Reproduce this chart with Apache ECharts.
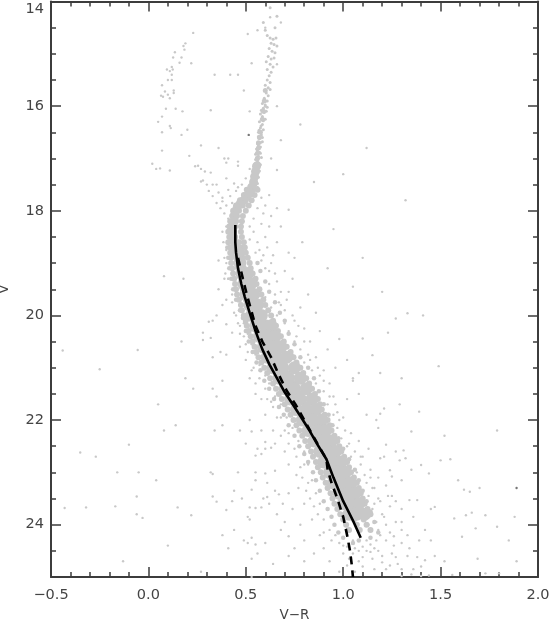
<!DOCTYPE html>
<html><head><meta charset="utf-8">
<style>html,body{margin:0;padding:0;background:#fff}#c{width:550px;height:621px}</style>
<script src="https://cdn.jsdelivr.net/npm/echarts@6/dist/echarts.min.js"></script></head>
<body><div id="c"></div>
<script>
// Dense stellar band: V magnitude, then V-R colours read across the band
const bandRows = [
[17.6,[.505,.535,.56]],[17.7,[.49,.52,.545]],[17.8,[.47,.50,.53]],[17.9,[.45,.485,.515]],[18.0,[.435,.465,.50]],
[18.1,[.43,.455,.485]],[18.2,[.42,.45,.48]],[18.3,[.415,.445,.475]],[18.4,[.41,.44,.475]],[18.5,[.415,.445,.48]],
[18.6,[.41,.44,.465,.49]],[18.7,[.42,.45,.48,.495]],[18.8,[.42,.45,.475,.50]],[18.9,[.425,.455,.485,.51]],[19.0,[.425,.455,.485,.52]],
[19.1,[.43,.46,.49,.525]],[19.2,[.435,.465,.50,.535]],[19.3,[.44,.475,.51,.55]],[19.4,[.445,.48,.515,.555]],[19.5,[.45,.485,.525,.57]],
[19.6,[.455,.49,.53,.58]],[19.7,[.465,.50,.54,.59]],[19.8,[.475,.51,.55,.60]],[19.9,[.48,.52,.56,.615]],[20.0,[.49,.53,.57,.63]],
[20.1,[.50,.54,.585,.64]],[20.2,[.505,.545,.59,.655]],[20.3,[.515,.555,.60,.665]],[20.4,[.525,.565,.61,.68]],[20.5,[.535,.58,.63,.695]],
[20.6,[.545,.59,.64,.71]],[20.7,[.555,.60,.655,.73]],[20.8,[.565,.61,.665,.745]],[20.9,[.58,.625,.68,.76]],[21.0,[.595,.64,.70,.78]],
[21.1,[.61,.655,.715,.795]],[21.2,[.625,.67,.73,.81]],[21.3,[.64,.69,.75,.825]],[21.4,[.655,.705,.765,.84]],[21.5,[.67,.72,.78,.855]],
[21.6,[.685,.735,.80,.87]],[21.7,[.70,.755,.815,.88]],[21.8,[.715,.77,.83,.89]],[21.9,[.73,.785,.845,.905]],[22.0,[.745,.80,.86,.92]],
[22.1,[.76,.815,.875,.93]],[22.2,[.775,.83,.89,.94]],[22.3,[.79,.845,.905,.955]],[22.4,[.805,.86,.92,.97]],[22.5,[.82,.875,.93,.98]],
[22.6,[.835,.885,.94,.99]],[22.7,[.845,.90,.955,1.005]],[22.8,[.86,.91,.965,1.02]],[22.9,[.87,.925,.98,1.03]],[23.0,[.885,.935,.99,1.04]],
[23.1,[.895,.95,1.005,1.055]],[23.2,[.91,.96,1.015,1.07]],[23.3,[.92,.975,1.03,1.08]],[23.4,[.935,.985,1.04,1.09]],[23.5,[.945,1.0,1.055,1.10]],
[23.6,[.955,1.01,1.065,1.11]],[23.7,[.97,1.025,1.08,1.125]],[23.8,[.985,1.04,1.09,1.14]],[23.9,[1.0,1.055,1.105]],[24.0,[1.015,1.07,1.12]],[24.1,[1.03,1.085,1.14]]
];
// Interior of the dense band (big soft dots), V then colours
const coreRows = [
[18.8,[.46]],[19.0,[.47]],[19.2,[.48,.51]],[19.4,[.49,.525]],[19.6,[.50,.54]],[19.8,[.52,.56]],[20.0,[.53,.58]],[20.2,[.55,.60,.63]],[20.4,[.57,.62,.65]],[20.6,[.59,.64,.68]],[20.8,[.61,.66,.71]],[21.0,[.64,.69,.75]],[21.2,[.67,.72,.78]],[21.4,[.70,.75,.81]],[21.6,[.73,.78,.84]],[21.8,[.76,.81,.86]],[22.0,[.79,.84,.89]],[22.2,[.82,.87,.91]],[22.4,[.85,.90,.94]],[22.6,[.88,.92,.96]],[22.8,[.90,.95,.99]],[23.0,[.93,.97,1.01]],[23.2,[.95,1.0,1.04]],[23.4,[.98,1.02,1.06]],[23.6,[1.0,1.04,1.08]],[23.8,[1.03,1.07,1.11]]
];
// Turn-off ridge
const turnoffPts = [[.555,17.15],[.55,17.25],[.545,17.35],[.54,17.45],[.53,17.55],[.52,17.65],[.505,17.72],[.49,17.8],[.47,17.87],[.455,17.95],[.445,18.02],[.44,18.1],[.44,18.2],[.435,18.3],[.43,18.4],[.435,18.5],[.44,18.6],[.45,18.7],[.455,18.8],[.46,18.9],[.47,19.0],[.48,19.1]];
const ridgePts = [[.60,15.7],[.595,15.9],[.59,16.1],[.585,16.25],[.575,16.5],[.57,16.6],[.565,16.7],[.565,16.8],[.56,16.9],[.56,17.0],[.555,17.1]];
// Soft edges of the band
const edgePts = [[.405,18.7],[.41,18.9],[.415,19.1],[.425,19.3],[.435,19.5],[.45,19.7],[.47,19.9],[.485,20.05],[.50,20.3],[.515,20.5],[.535,20.7],[.555,20.9],[.575,21.05],[.595,21.25],[.62,21.4],[.645,21.6],[.67,21.75],[.695,21.9],[.72,22.1],[.75,22.3],[.775,22.5],[.80,22.65],[.82,22.8],[.845,23.0],[.86,23.15],[.88,23.35],[.90,23.55],[.92,23.7],[.94,23.85],[.955,24.0],[.975,24.15],[1.0,24.25],
[.56,19.0],[.575,19.15],[.60,19.35],[.62,19.55],[.65,19.75],[.675,19.95],[.70,20.1],[.72,20.35],[.75,20.55],[.78,20.8],[.82,21.0],[.85,21.2],[.875,21.45],[.90,21.7],[.925,21.9],[.945,22.1],[.975,22.35],[1.0,22.55],[1.03,22.75],[1.06,22.95],[1.08,23.15],[1.10,23.35],[1.12,23.55],[1.14,23.75],[1.16,23.95],[1.18,24.15],[1.14,24.25],[1.08,24.3],[1.05,24.35]];
// Upper giant branch
const giantPts = [[.625,14.12],[.59,14.4],[.60,14.55],[.65,14.5],[.66,14.28],[.61,14.65],[.625,14.7],[.64,14.72],[.655,14.7],[.63,14.8],[.645,14.82],[.66,14.85],[.62,14.9],[.635,14.95],[.65,14.98],[.615,15.05],[.63,15.1],[.645,15.08],[.605,15.15],[.625,15.2],[.64,15.25],[.61,15.3],[.63,15.35],[.62,15.42],[.61,15.5],[.625,15.55],[.60,15.6],[.615,15.65],[.625,15.68],[.605,15.75],[.615,15.8],[.595,15.85],[.61,15.9],[.585,15.95],[.60,16.0],[.61,16.02],[.58,16.08],[.595,16.12],[.585,16.2],[.60,16.25],[.57,16.3],[.585,16.35],[.575,16.42],[.59,16.45],[.565,16.5],[.58,16.55],[.57,16.62],[.585,16.68],[.56,16.72],[.575,16.78],[.555,16.82],[.57,16.88],[.55,16.92],[.565,16.96],[.58,16.98],[.55,17.02],[.565,17.08],[.575,17.12],[.55,17.15],[.56,17.2],[.57,17.24],[.545,17.28],[.555,17.32],[.565,17.36],[.54,17.4],[.55,17.44],[.56,17.48],[.535,17.52],[.545,17.56],[.555,17.58],
[.60,15.98],[.59,16.04],[.605,16.1],[.575,16.15],[.59,16.28],[.578,16.38],[.568,16.46],[.585,16.6],[.565,16.58],[.575,16.7],[.565,16.75],[.56,16.85],[.575,16.9],[.555,16.98],[.56,17.05],[.57,17.1],[.555,17.1],[.56,17.28],[.55,17.36],[.545,17.48],[.55,17.52],[.54,17.6],[.56,17.55]];
// Horizontal branch and other bright scatter
const brightPts = [[.23,14.6],[.19,14.8],[.18,14.85],[.185,14.92],[.136,14.97],[.127,15.07],[.17,15.07],[.16,15.17],[.22,15.18],[.12,15.25],[.095,15.3],[.125,15.3],[.11,15.33],[.12,15.4],[.10,15.5],[.12,15.5],[.07,15.6],[.13,15.7],[.085,15.72],[.065,15.8],[.10,15.78],[.13,15.75],[.11,15.85],[.075,15.82],[.09,16.05],[.14,16.05],[.175,16.1],[.32,16.08],[.07,16.2],[.05,16.3],[.11,16.38],[.115,16.42],[.07,16.5],[.2,16.45],[.17,16.55],[.27,16.75],[.36,16.8],[.07,16.85],[.21,16.95],[.39,17.0],[.41,17.0],[.40,17.08],[.46,17.06],[.46,17.14],[.02,17.1],[.04,17.2],[.06,17.19],[.11,17.23],[.24,17.15],[.255,17.14],[.27,17.2],[.29,17.25],[.32,17.27],[.28,17.42],[.27,17.44],[.33,17.5],[.35,17.5],[.40,17.38],[.30,17.5],[.31,17.62],[.33,17.72],[.36,17.65],[.38,17.75],[.41,17.6],[.44,17.48],[.46,17.55],[.35,17.85],[.38,17.82],[.40,17.9],[.42,17.72],[.45,17.62],[.48,17.5],[.50,17.38],[.52,17.2],[.43,17.85],[.37,17.95],[.39,18.05],[.52,16.1],[.49,15.7],[.34,15.4],[.46,15.4],[.42,15.4],[.51,14.62],[.56,14.55],[.53,15.18],[.60,14.5],[.625,14.3],[.68,14.4],[.66,15.2],[.66,16.0],[.68,16.65],[.63,17.0],[.66,17.22],[.62,17.7],[.60,17.9],[.66,17.95],[.63,18.1],[.58,17.75],[.56,17.95],[.59,18.05],[.72,17.98],[.79,18.6],[.72,18.8],[.68,18.3],[.62,18.3],[.60,18.5],[.58,18.25],[.66,18.6],[.64,18.85],[.75,18.9],[.38,18.4],[.40,18.75],[.36,18.95],[.18,19.3],[.08,19.25],[.36,19.5],[.38,19.8],[.35,20.0],[.40,19.7],[.39,19.3],
[.54,18.4],[.56,18.6],[.55,18.8],[.58,18.95],[.60,19.1],[.54,18.15],[.52,18.3],[.52,18.55],[.57,18.75],[.62,19.4],[.60,19.65],[.65,19.6],[.63,19.85],[.68,19.8],[.66,20.0],[.70,20.15],[.68,19.55],[.72,20.3],[.75,20.5],[.78,20.65],[.74,20.75],[.80,20.9],[.84,21.05],[.82,20.75],[.86,21.3],[.90,21.45],[.88,21.15],[.92,21.7],[.95,21.9],[.97,22.15],[.99,22.35],[1.02,22.5],[1.04,22.7],[1.07,23.0],[1.09,22.85],[1.12,23.2],[1.13,23.45],[1.15,23.7],[1.17,23.95],[1.19,24.2],[1.16,23.6],[1.13,24.0],[1.17,24.3],[1.12,24.5],[1.15,24.65],[1.05,24.3],[1.08,24.7],[1.0,24.55],[1.22,24.85],[.93,24.1],[.90,23.9],[.88,23.6],[.86,23.4],[.84,23.15],[.82,22.85],[.80,22.6],[.77,22.4],[.74,22.15],[.71,21.95],[.68,21.7],[.65,21.55],[.62,21.3],[.60,21.15],[.57,20.95],[.55,20.75],[.53,20.55],[.51,20.35],[.49,20.15],
[.59,18.85],[.61,18.7],[.63,19.0],[.65,19.2],[.70,19.15],[.67,19.75],[.71,19.7],[.74,20.0],[.77,20.2],[.76,20.4],[.80,20.5],[.83,20.85],[.87,21.0],[.90,21.25],[.93,21.55],[.96,21.7],[.98,22.0],[1.01,22.2],[1.03,22.45],[1.06,22.6],[1.09,22.7],[1.11,23.05],[1.14,23.1],[1.16,23.3],[1.18,23.5],[1.20,23.8],[1.22,24.0],[1.24,24.15],[1.10,24.42],[1.14,24.38],[1.06,24.45],[1.02,24.42],[.98,24.35],[.94,24.3],[.90,24.15],[.87,23.8],[.85,23.65],[.83,23.5],[.81,23.35],[.79,23.1],[.78,22.9],[.75,22.55],[.72,22.45],[.70,22.2],[.66,21.95],[.63,21.65],[.60,21.4],[.57,21.2],[.54,21.0],[.51,20.7],[.49,20.4],[.47,20.2],[.45,20.0],[.43,19.75],[.41,19.3],[.395,19.2],[.39,18.9],[.385,18.6],[.40,18.3],[.41,18.15],
[1.05,24.55],[1.1,24.62],[1.14,24.52],[1.18,24.5],[1.2,24.72],[1.16,24.85],[1.06,24.9],[1.02,24.78],[1.26,24.4],[1.3,24.35],[1.27,24.62],[1.24,24.78],[1.3,24.85],[1.34,24.45],[1.38,24.62],[1.42,24.68],[1.35,24.95],[1.4,24.98],[1.26,24.22],[1.3,24.1],[1.23,23.45],[1.27,23.55],[1.3,23.95]];
// Scatter around the band and across the field
const fieldPts = [[-.44,20.67],[-.055,20.66],[-.25,21.03],[.17,20.5],[.28,20.33],[.28,20.47],[.32,20.43],[.31,20.12],[.33,20.1],[.33,20.8],[.37,20.7],[.40,20.75],[.43,20.33],[.40,20.17],[.19,21.2],[.23,21.4],[.33,21.4],[.38,21.25],[.35,21.55],[.05,21.7],[.14,22.1],[.08,22.2],[-.1,22.47],[-.35,22.62],[-.27,22.7],[-.16,23],[-.05,23],[.04,23.15],[.32,23],[.33,23.03],[-.06,23.46],[.33,23.46],[.35,23.56],[.44,23.35],[-.43,23.68],[-.32,23.67],[-.17,23.65],[.15,23.67],[-.06,23.8],[-.03,23.87],[.22,23.82],[.40,23.72],[.43,23.55],[.48,23.5],[.52,23.67],[.55,23.68],[.58,23.67],[.51,23.85],[.52,23.9],[.44,24.1],[.38,24.2],[.1,24.4],[.41,24.45],[.49,24.3],[.53,24.25],[.51,24.35],[.55,24.38],[.56,24.55],[.53,24.65],[.6,24.35],[-.13,24.7],[.27,24.9],[.64,24.75],[.53,25],
[.52,22.0],[.47,22.2],[.53,22.22],[.58,22.2],[.38,22.1],[.34,22.2],[.5,22.45],[.6,22.42],[.56,22.55],[.6,22.55],[.55,22.68],[.58,22.65],[.63,22.53],[.65,22.45],[.46,23],[.55,23],[.6,23.02],[.65,22.97],[.55,23.15],[.61,23.2],[.53,23.33],[.61,23.47],[.59,23.5],[.65,23.35],[.62,23.6],[.67,23.42],[.69,23.6],[.72,23.4],[.66,23.8],[.70,23.95],[.74,23.7],[.68,24.1],[.72,24.22],[.78,24.0],[.75,24.45],[.80,24.3],[.72,24.6],[.80,24.7],[.85,24.55],[.88,24.2],[.84,23.9],[.80,23.6],[.77,23.3],[.82,23.2],[.76,23.05],[.72,22.85],[.70,22.6],[.76,22.7],[.80,22.85],[.68,22.3],[.64,22.2],[.72,22.25],[.60,21.9],[.64,21.75],[.68,21.95],[.55,21.5],[.58,21.6],[.61,21.6],[.52,21.2],[.55,21.3],[.50,20.85],[.53,21.05],[.47,20.6],[.50,20.55],[.46,20.15],[.47,20.35],[.44,19.95],[.43,19.6],[.41,19.3],[.40,19.0],
[.90,24.45],[.93,24.7],[.96,24.2],[1.0,24.4],[1.03,24.65],[.98,24.9],[1.08,24.5],[1.12,24.3],[1.18,24.1],[1.16,24.45],[1.22,24.3],[1.2,24.6],[1.1,24.8],[1.25,24.55],[1.28,24.75],[1.33,24.6],[1.36,24.85],[1.3,24.98],[1.4,24.8],[1.44,24.97],[1.47,24.6],[1.39,24.3],[1.33,24.2],[1.27,23.95],[1.3,23.7],[1.24,23.65],[1.21,23.85],[1.19,23.55],[1.15,23.3],[1.18,23.1],[1.22,23.25],[1.25,23.45],[1.14,22.95],[1.1,22.7],[1.13,22.55],[1.08,22.4],[1.04,22.25],[1.0,21.95],[.97,21.85],[1.02,21.6],[.95,21.55],[.93,21.3],[.90,21.05],[.96,21.0],[.86,20.8],[.92,20.65],[.83,20.5],[.80,20.25],[.88,20.3],[.75,20.1],[.70,19.9],[.78,19.85],[.72,19.55],[.66,19.35],[.74,19.3],[.62,19.15],[.82,19.6],[.86,19.95],[.98,20.45],[1.02,20.85],[1.05,21.2],[1.08,21.5],[1.12,21.9],[1.18,22.15],
[1.33,19.96],[1.41,20],[1.27,20.06],[1.23,20.33],[1.1,20.44],[1.15,20.76],[1.49,20.97],[1.3,21.2],[1.19,21.1],[1.05,21.25],[1.08,21.1],[1.39,21.84],[1.29,21.7],[1.21,21.78],[1.19,21.88],[1.17,22.0],[1.79,22.2],[1.52,22.3],[1.35,22.22],[1.22,22.47],[1.27,22.6],[1.31,22.58],[1.32,22.73],[1.21,22.7],[1.19,22.73],[1.29,22.77],[1.5,22.77],[1.55,22.75],[1.4,22.86],[1.44,23.02],[1.24,22.96],[1.25,23.08],[1.59,23.15],[1.65,23.37],[1.7,23.3],[1.62,23.33],[1.34,23.53],[1.38,23.53],[1.47,23.66],[1.66,23.77],[1.63,23.82],[1.73,23.82],[1.57,23.88],[1.88,23.85],[1.68,24.07],[1.79,24.04],[1.61,24.23],[1.85,24.3],[1.69,24.65],[1.89,24.7],[1.73,24.93],[1.8,24.93],[1.56,24.96],[1.52,24.7],[1.45,24.3],[1.42,24.1],[1.36,23.85],[1.45,23.7],[1.35,22.95],[1.3,23.15],[1.32,17.8],[1.0,17.3],[.95,18.35],[1.1,18.9],[1.05,19.45],[.92,19.1],[1.2,19.55],[1.12,16.8],[.85,17.45],[.78,16.35]];
const darkPts = [[.515,16.55],[1.89,23.3]];
// Model sequences: V-R, V
const solidCurve = [[.446,18.27],[.446,18.6],[.45,18.8],[.46,19.1],[.477,19.4],[.495,19.65],[.52,19.95],[.55,20.3],[.585,20.65],[.623,20.95],[.66,21.2],[.70,21.47],[.75,21.75],[.793,22.0],[.83,22.22],[.865,22.45],[.914,22.75],[.95,23.1],[1.0,23.55],[1.05,23.92],[1.09,24.25]];
const dashCurve = [[.46,18.9],[.485,19.3],[.505,19.6],[.55,20.2],[.585,20.5],[.63,20.8],[.665,21.1],[.71,21.44],[.755,21.7],[.80,22.0],[.86,22.4],[.914,22.75],[.92,22.95],[.94,23.2],[.97,23.5],[1.0,23.85],[1.02,24.2],[1.035,24.5],[1.045,24.8],[1.05,25]];

const bandPts = [], corePts = [];
bandRows.forEach(r => r[1].forEach(x => bandPts.push([x, r[0]])));
coreRows.forEach(r => r[1].forEach(x => corePts.push([x, r[0]])));
const grey = '#c8c8c8', axisCol = '#3c3c3c';
const font = {fontFamily:'DejaVu Sans', fontSize:14.5, color:'#444'};
const nameFont = {fontFamily:'DejaVu Sans', fontSize:13.5, color:'#444'};
const lineBits = {axisLine:{show:true,onZero:false,lineStyle:{color:axisCol,width:2}},splitLine:{show:false},minorSplitLine:{show:false}};
function xA(pos,lab){return Object.assign({type:'value',min:-.5,max:2,interval:.5,position:pos,
  axisTick:{show:true,inside:true,length:10,lineStyle:{color:axisCol,width:1.5}},
  minorTick:{show:true,splitNumber:5,length:5,lineStyle:{color:axisCol,width:1.5}},
  axisLabel:{show:lab,margin:11,...font,formatter:v=>v.toFixed(1).replace('-','\u2212')},
  name:lab?'V\u2212R':'',nameLocation:'middle',nameGap:31,nameTextStyle:nameFont},lineBits);}
function yA(pos,lab){return Object.assign({type:'value',min:14,max:25,interval:2,inverse:true,position:pos,
  axisTick:{show:true,inside:true,length:10,lineStyle:{color:axisCol,width:1.5}},
  minorTick:{show:true,splitNumber:4,length:5,lineStyle:{color:axisCol,width:1.5}},
  axisLabel:{show:lab,margin:7,showMaxLabel:false,verticalAlignMinLabel:'top',...font,formatter:v=>String(v)},
  name:lab?'V':'',nameLocation:'middle',nameGap:40,nameTextStyle:nameFont},lineBits);}
const chart = echarts.init(document.getElementById('c'),null,{renderer:'canvas'});
const sc = (d,s,c)=>({type:'scatter',data:d,symbolSize:s,silent:true,clip:true,itemStyle:{color:c,opacity:1},animation:false,xAxisIndex:0,yAxisIndex:0,large:false});
const ln = (d,t)=>({type:'line',data:d,showSymbol:false,symbol:'none',smooth:false,silent:true,clip:true,animation:false,z:5,lineStyle:{color:'#000',width:2.6,type:t}});
chart.setOption({animation:false,backgroundColor:'#fff',
  grid:{left:51,right:12,top:1.5,bottom:44,containLabel:false,outerBoundsMode:'none'},
  xAxis:[xA('bottom',true),xA('top',false)],
  yAxis:[yA('left',true),yA('right',false)],
  series:[sc(fieldPts,2.4,grey),sc(brightPts,2.4,grey),sc(giantPts,3,grey),sc(ridgePts,5,grey),sc(edgePts,4.5,grey),sc(bandPts,6,grey),sc(turnoffPts,9,grey),sc(corePts,13,grey),sc(darkPts,2.4,'#777'),ln(dashCurve,[8,6]),ln(solidCurve,'solid')]
});
</script></body></html>
